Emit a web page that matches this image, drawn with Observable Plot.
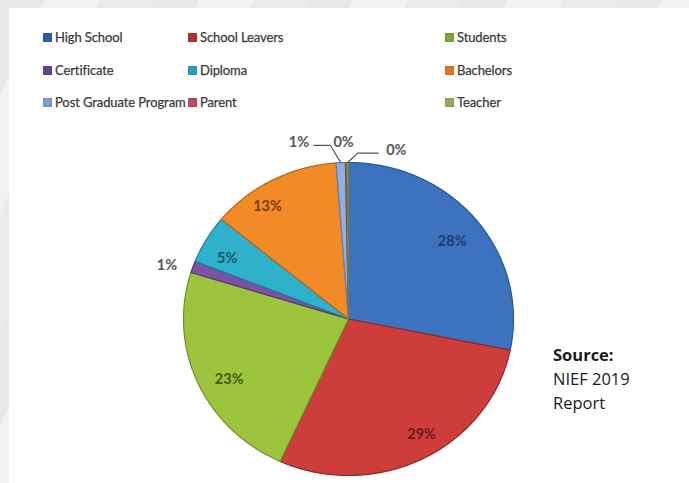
<!DOCTYPE html>
<html>
<head>
<meta charset="utf-8">
<script src="https://cdn.jsdelivr.net/npm/d3@7"></script>
<script src="https://cdn.jsdelivr.net/npm/@observablehq/plot@0.6"></script>
<style>
  html, body { margin: 0; padding: 0; }
  #wrap {
    position: relative; width: 689px; height: 483px; overflow: hidden;
    background: repeating-linear-gradient(115deg, #e8e8e8 0px, #e8e8e8 40px, #f2f2f2 40px, #f2f2f2 90px, #ebebeb 90px, #ebebeb 140px);
  }
  #panel { position: absolute; left: 9px; top: 8px; right: 0; bottom: 0; background: #ffffff; }
  #chart { position: absolute; left: 0; top: 0; }
  .leg { position: absolute; font-family: Lato, "Open Sans", sans-serif; font-size: 13px; letter-spacing: -0.1px; color: #3a3a3a; display: flex; align-items: center; white-space: nowrap; -webkit-text-stroke: 0.25px #3a3a3a; }
  .sw { width: 9px; height: 9px; margin-right: 3px; border-radius: 1px; box-shadow: inset 0 0 2px rgba(0,0,0,0.35); }
  #source { position: absolute; left: 553px; top: 343px; font-family: "Open Sans", sans-serif; font-size: 16.5px; line-height: 24px; color: #1a1a1a; }
  #source b { font-weight: 700; }
</style>
</head>
<body>
<div id="wrap">
  <div id="panel"></div>
  <div id="chart"></div>
  <div id="legend"></div>
  <div id="source"><b>Source:</b><br>NIEF 2019<br>Report</div>
</div>
<script>
// ---- data ----
const categories = ["High School", "School Leavers", "Students", "Certificate", "Diploma", "Bachelors", "Post Graduate Program", "Parent", "Teacher"];
const shares = [28.2, 28.6, 23.0, 1.2, 5.0, 12.8, 0.9, 0.15, 0.15];

// ---- styles ----
const fills  = ["#3d73be", "#cd3d3b", "#9cc43d", "#7b52a8", "#30b1cb", "#f28b27", "#8fb1e2", "#d06a7e", "#a9c072"];
const edges  = ["#2a5590", "#8f2826", "#6f9127", "#55357a", "#1f7f93", "#b9651a", "#5f7fae", "#8f4050", "#6f8045"];
const legendSw = ["#2f5fa6", "#b8302e", "#7fa83a", "#6a3f95", "#2aa0bc", "#e07a20", "#7f9fd0", "#c04a68", "#94ad5c"];
const labelInk = ["#1e3d6c", "#6e1a19", "#3e5c12", "#555555", "#1c5566", "#7a3c05", "#555555", "#555555", "#555555"];

// ---- legend (HTML) ----
const legCols = [43, 188, 445];
const legRows = [29, 62, 94];
const legend = document.getElementById("legend");
categories.forEach((c, i) => {
  const d = document.createElement("div");
  d.className = "leg";
  d.style.left = legCols[i % 3] + "px";
  d.style.top = legRows[Math.floor(i / 3)] + "px";
  d.innerHTML = `<span class="sw" style="background:${legendSw[i]}"></span>${c}`;
  legend.appendChild(d);
});

// ---- pie geometry (unit circle, clockwise from 12 o'clock) ----
const total = d3.sum(shares);
let cum = 0;
const slices = categories.map((name, i) => {
  const a0 = cum / total * 2 * Math.PI;
  cum += shares[i];
  const a1 = cum / total * 2 * Math.PI;
  return {name, i, a0, a1, mid: (a0 + a1) / 2, pct: Math.round(shares[i] / total * 100)};
});
const polyPts = [];
slices.forEach(s => {
  polyPts.push({name: s.name, x: 0, y: 0, f: fills[s.i], e: edges[s.i]});
  const n = Math.max(2, Math.ceil((s.a1 - s.a0) / 0.01));
  for (let k = 0; k <= n; k++) {
    const a = s.a0 + (s.a1 - s.a0) * k / n;
    polyPts.push({name: s.name, x: Math.sin(a), y: Math.cos(a), f: fills[s.i], e: edges[s.i]});
  }
});

// label placement (layout): inside labels at radius r, angle nudged (degrees)
const insideNudge = {
  "High School": [0.80, 1], "School Leavers": [0.86, -4], "Students": [0.82, -4],
  "Diploma": [0.83, -3], "Bachelors": [0.87, -7]
};
const outsidePos = {
  "Certificate": [-1.10, 0.34],
  "Post Graduate Program": [-0.30, 1.13],
  "Parent": [-0.03, 1.13],
  "Teacher": [0.29, 1.075]
};
const labels = slices.map(s => {
  if (outsidePos[s.name]) return {t: s.pct + "%", x: outsidePos[s.name][0], y: outsidePos[s.name][1], c: labelInk[s.i]};
  const [r, dA] = insideNudge[s.name] || [0.82, 0];
  const a = s.mid + dA * Math.PI / 180;
  return {t: s.pct + "%", x: r * Math.sin(a), y: r * Math.cos(a), c: labelInk[s.i]};
});
const pg = slices[6], te = slices[8];
const leaders = [
  {g: "pg", x: -0.21, y: 1.11}, {g: "pg", x: -0.11, y: 1.11}, {g: "pg", x: Math.sin(pg.mid), y: Math.cos(pg.mid)},
  {g: "te", x: Math.sin(te.mid), y: Math.cos(te.mid)}, {g: "te", x: 0.055, y: 1.06}, {g: "te", x: 0.18, y: 1.06}
];

const chart = Plot.plot({
  width: 689,
  height: 483,
  margin: 0,
  style: {background: "transparent", overflow: "visible"},
  x: {domain: [-1, 1], range: [183, 513], axis: null},
  y: {domain: [-1, 1], range: [475, 162], axis: null},
  color: {type: "identity"},
  marks: [
    Plot.line(polyPts, {x: "x", y: "y", z: "name", fill: "f", stroke: "e", strokeWidth: 1.2, curve: "linear-closed", strokeLinejoin: "round"}),
    Plot.line(leaders, {x: "x", y: "y", z: "g", stroke: "#555555", strokeWidth: 1.2}),
    Plot.text(labels, {x: "x", y: "y", text: "t", fill: "c", fontSize: 14.5, fontWeight: "bold", fontFamily: "Lato, sans-serif"})
  ]
});
document.getElementById("chart").appendChild(chart);
</script>
</body>
</html>
